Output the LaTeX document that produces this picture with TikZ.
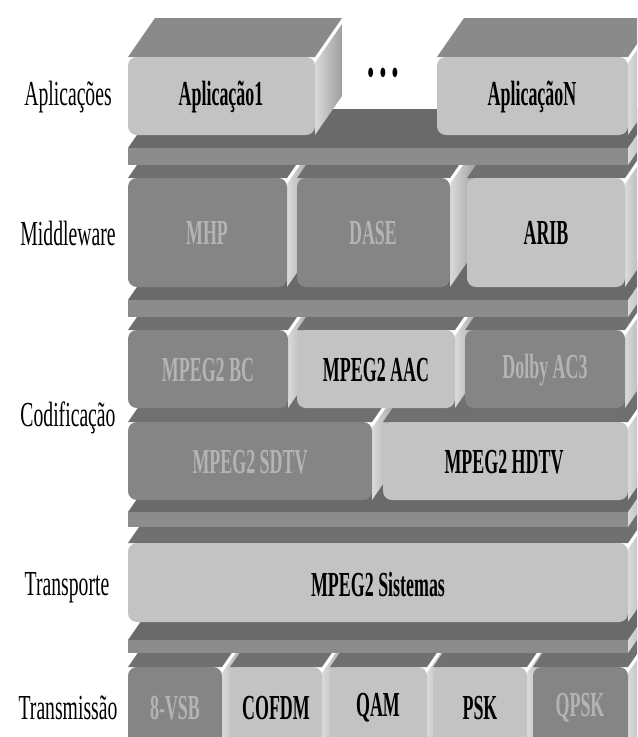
\documentclass[tikz,border=0pt]{standalone}
\usepackage{fontspec}
\setmainfont[FakeStretch=0.56,BoldFeatures={FakeStretch=0.51}]{Liberation Serif}
\definecolor{claro}{HTML}{C3C3C3}
\definecolor{escuro}{HTML}{858585}
\definecolor{letraesc}{HTML}{B4B4B4}
\definecolor{topo}{HTML}{707070}
\definecolor{topoapl}{HTML}{8A8A8A}
\definecolor{lajefr}{HTML}{8C8C8C}
\definecolor{lajetp}{HTML}{6A6A6A}
\definecolor{lado1}{HTML}{DADADA}
\definecolor{lado2}{HTML}{9E9E9E}
% bloco: x1 y1 x2 y2 frente topo
\newcommand\bloco[6]{%
  \fill[#6] (#1,#2) -- ({#1+27},{#2-39}) -- ({#3+27},{#2-39}) -- (#3,#2) -- cycle;
  \shade[left color=lado1, right color=lado2] (#3,{#2+6}) -- ({#3+27},{#2-33}) -- ({#3+27},{#4-39}) -- (#3,#4) -- cycle;
  \fill[#5, rounded corners=5pt] (#1,#2) rectangle (#3,#4);
}
% laje: y1 y2
\newcommand\laje[2]{%
  \fill[lajetp] (128,#1) -- (155,{#1-39}) -- (655,{#1-39}) -- (628,#1) -- cycle;
  \shade[left color=lado1, right color=lado2] (628,#1) -- (655,{#1-39}) -- (655,{#2-39}) -- (628,#2) -- cycle;
  \fill[lajefr] (128,#1) rectangle (628,#2);
}
\begin{document}
\begin{tikzpicture}[x=0.02cm, y=-0.02cm]
\tikzstyle{every node}=[font=\fontsize{20}{23}\selectfont]
\tikzstyle{tclaro}=[font=\fontsize{20}{23}\selectfont\bfseries, text=black]
\tikzstyle{tescuro}=[font=\fontsize{20}{23}\selectfont\bfseries, text=letraesc]
\tikzstyle{camada}=[anchor=center, text=black]
\fill[white] (0,0) rectangle (637,737);
\useasboundingbox (0,0) rectangle (637,737);
\clip (0,0) rectangle (637,737);
% Transmissao
  \bloco{128}{667}{222}{750}{escuro}{topo}
  \node[tescuro] (vsb) at (175,708) {8-VSB};
  \bloco{230}{667}{322}{750}{claro}{topo}
  \node[tclaro] (cofdm) at (276,708) {COFDM};
  \bloco{330}{667}{427}{750}{claro}{topo}
  \node[tclaro] (qam) at (378,708) {QAM};
  \bloco{433}{667}{527}{750}{claro}{topo}
  \node[tclaro] (psk) at (480,708) {PSK};
  \bloco{533}{667}{628}{750}{escuro}{topo}
  \node[tescuro] (qpsk) at (580,708) {QPSK};
  \laje{640}{653}
% Transporte
  \bloco{128}{543}{628}{622}{claro}{topo}
  \node[tclaro] (sistemas) at (378,584) {MPEG2 Sistemas};
  \laje{512}{527}
% Codificacao, video
  \bloco{128}{422}{372}{500}{escuro}{topo}
  \node[tescuro] (sdtv) at (250,462) {MPEG2 SDTV};
  \bloco{383}{422}{628}{500}{claro}{topo}
  \node[tclaro] (hdtv) at (504,462) {MPEG2 HDTV};
% Codificacao, audio
  \bloco{128}{330}{288}{408}{escuro}{topo}
  \node[tescuro] (bc) at (208,370) {MPEG2 BC};
  \bloco{297}{330}{455}{408}{claro}{topo}
  \node[tclaro] (aac) at (376,370) {MPEG2 AAC};
  \bloco{465}{330}{625}{408}{escuro}{topo}
  \node[tescuro] (ac3) at (545,370) {Dolby AC3};
  \laje{300}{317}
% Middleware
  \bloco{128}{178}{287}{287}{escuro}{topo}
  \node[tescuro] (mhp) at (207,233) {MHP};
  \bloco{297}{178}{450}{287}{escuro}{topo}
  \node[tescuro] (dase) at (373,233) {DASE};
  \bloco{467}{178}{625}{287}{claro}{topo}
  \node[tclaro] (arib) at (546,233) {ARIB};
  \laje{148}{165}
% Aplicacoes
  \bloco{128}{57}{315}{135}{claro}{topoapl}
  \node[tclaro] (apl1) at (221,97) {Aplicação1};
  \bloco{437}{57}{628}{135}{claro}{topoapl}
  \node[tclaro] (apln) at (532,97) {AplicaçãoN};
  \node[tclaro] (pontos) at (383,76) {\textbullet\,\textbullet\,\textbullet};
% rotulos
  \node[camada] (lapl) at (68,97) {Aplicações};
  \node[camada] (lmid) at (68,233) {Middleware};
  \node[camada] (lcod) at (68,418) {Codificação};
  \node[camada] (ltra) at (67,588) {Transporte};
  \node[camada] (ltrm) at (68,708) {Transmissão};
\end{tikzpicture}
\end{document}
